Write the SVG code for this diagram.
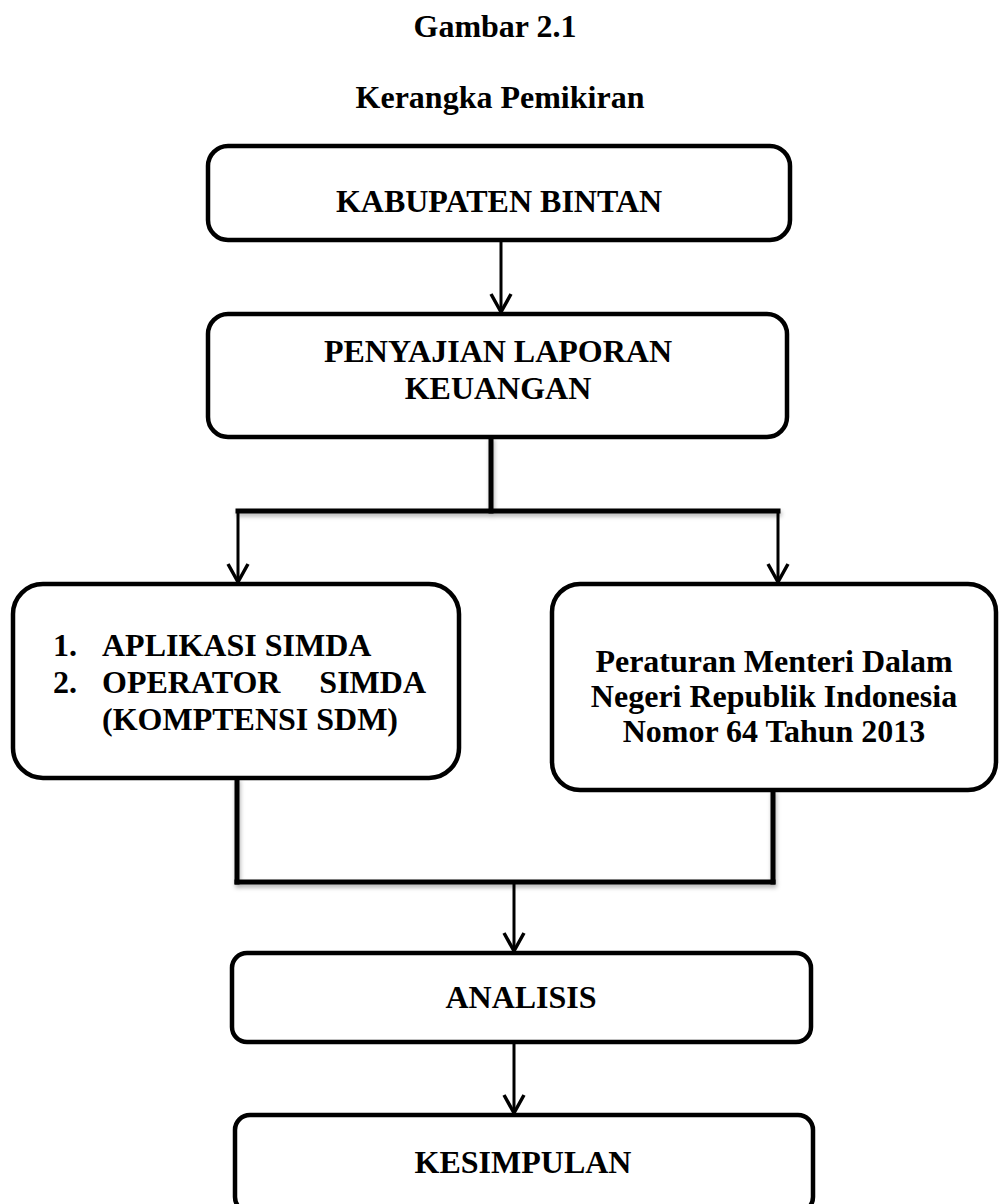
<svg xmlns="http://www.w3.org/2000/svg" width="999" height="1204" viewBox="0 0 999 1204">
<style>
.box{fill:#fff;stroke:#000;stroke-width:4.5}
.t{font-family:"Liberation Serif","Times New Roman",serif;font-weight:bold;font-size:32px;fill:#000}
.c{text-anchor:middle}
.thick{stroke:#000;stroke-width:5;fill:none;stroke-linecap:square}
.arr{stroke:#000;stroke-width:3;fill:none;marker-end:url(#ah)}
</style>
<defs>
<marker id="ah" markerUnits="userSpaceOnUse" markerWidth="40" markerHeight="40" refX="0" refY="0" orient="auto" overflow="visible">
<path d="M-18,-10 L0,0 L-18,10" fill="none" stroke="#000" stroke-width="3.5" stroke-linejoin="miter"/>
</marker>
<filter id="sh" x="-5%" y="-50%" width="110%" height="300%">
<feDropShadow dx="1" dy="3" stdDeviation="2" flood-color="#000" flood-opacity="0.3"/>
</filter>
</defs>
<rect width="999" height="1204" fill="#fff"/>
<g id="title">
<text class="t c" x="495" y="37">Gambar 2.1</text>
<text class="t c" x="500" y="108">Kerangka Pemikiran</text>
</g>
<g id="connectors">
<line class="arr" x1="501" y1="242" x2="501" y2="312"/>
<g filter="url(#sh)">
<line class="thick" x1="491" y1="439" x2="491" y2="511"/>
<line class="thick" x1="238" y1="511" x2="778" y2="511"/>
<line class="thick" x1="237" y1="780" x2="237" y2="882"/>
<line class="thick" x1="773" y1="792" x2="773" y2="882"/>
<line class="thick" x1="237" y1="882" x2="773" y2="882"/>
</g>
<line class="arr" x1="238" y1="511" x2="238" y2="582"/>
<line class="arr" x1="778" y1="511" x2="778" y2="582"/>
<line class="arr" x1="514" y1="884" x2="514" y2="951"/>
<line class="arr" x1="514" y1="1044" x2="514" y2="1113"/>
</g>
<g id="kabupaten">
<rect class="box" x="208" y="146" width="582" height="94" rx="20"/>
<text class="t c" x="499" y="212">KABUPATEN BINTAN</text>
</g>
<g id="penyajian">
<rect class="box" x="208" y="314" width="579" height="123" rx="20"/>
<text class="t c" x="498" y="362">PENYAJIAN LAPORAN</text>
<text class="t c" x="498" y="399">KEUANGAN</text>
</g>
<g id="simda">
<rect class="box" x="13" y="584" width="446" height="194" rx="30"/>
<text class="t" x="53" y="656">1.</text>
<text class="t" x="102" y="656">APLIKASI SIMDA</text>
<text class="t" x="53" y="693">2.</text>
<text class="t" x="102" y="693">OPERATOR</text>
<text class="t" x="426" y="693" text-anchor="end">SIMDA</text>
<text class="t" x="102" y="730">(KOMPTENSI SDM)</text>
</g>
<g id="peraturan">
<rect class="box" x="552" y="584" width="444" height="206" rx="28"/>
<text class="t c" x="774" y="672">Peraturan Menteri Dalam</text>
<text class="t c" x="774" y="707">Negeri Republik Indonesia</text>
<text class="t c" x="774" y="742">Nomor 64 Tahun 2013</text>
</g>
<g id="analisis">
<rect class="box" x="232" y="953" width="579" height="89" rx="15"/>
<text class="t c" x="521" y="1008">ANALISIS</text>
</g>
<g id="kesimpulan">
<rect class="box" x="235" y="1115" width="578" height="97" rx="15"/>
<text class="t c" x="523" y="1173">KESIMPULAN</text>
</g>
</svg>
